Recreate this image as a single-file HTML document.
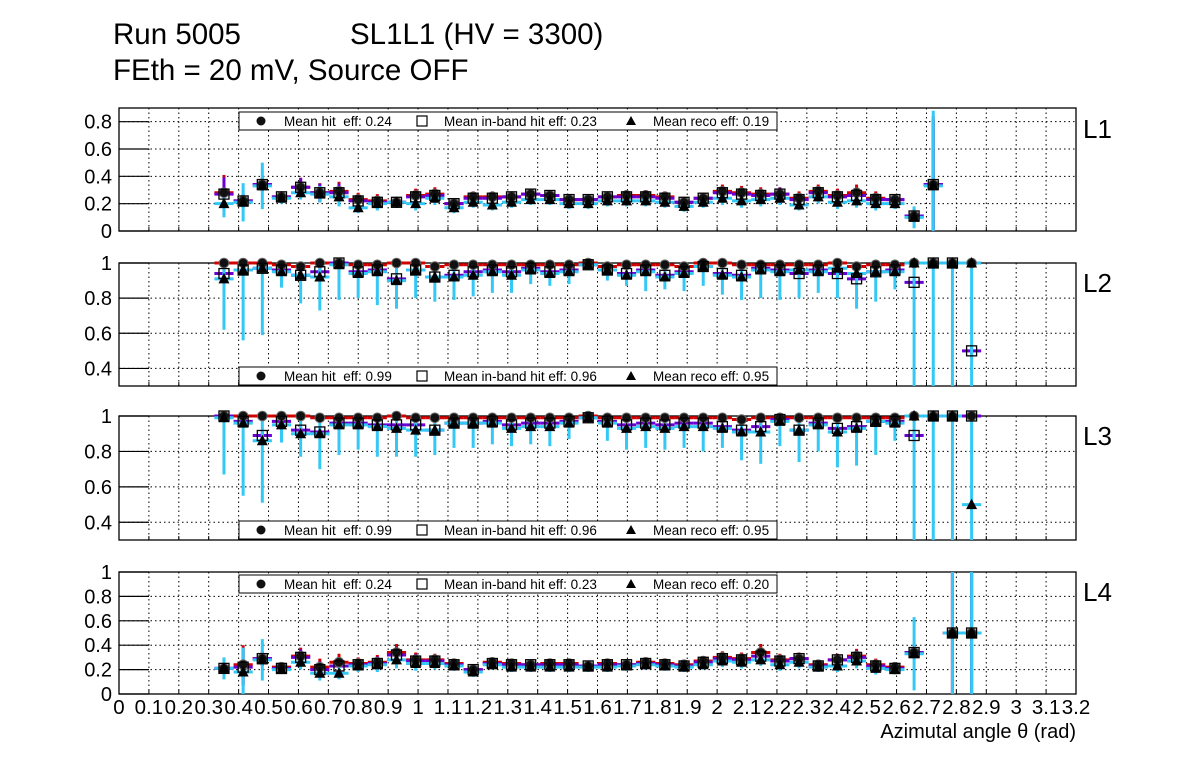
<!DOCTYPE html>
<html><head><meta charset="utf-8"><style>
body{margin:0;background:#fff;}
svg{display:block;font-family:"Liberation Sans",sans-serif;}
text{white-space:pre;}
</style></head><body>
<svg id="c" width="1196" height="772" viewBox="0 0 1196 772" xmlns="http://www.w3.org/2000/svg">
<rect width="1196" height="772" fill="#fff"/>
<text x="113" y="44" font-size="29.5">Run 5005</text>
<text x="350" y="44" font-size="29.5">SL1L1 (HV = 3300)</text>
<text x="113" y="80" font-size="29.5">FEth = 20 mV, Source OFF</text>
<text x="1076" y="738" font-size="20" text-anchor="end">Azimutal angle θ (rad)</text>
</svg>
<script>
// ----- data -----
const binStart = 0.351, binWidth = 0.0641;
const xTicks = ["0","0.1","0.2","0.3","0.4","0.5","0.6","0.7","0.8","0.9","1","1.1","1.2","1.3","1.4","1.5","1.6","1.7","1.8","1.9","2","2.1","2.2","2.3","2.4","2.5","2.6","2.7","2.8","2.9","3","3.1","3.2"];
const panelNames = ["L1","L2","L3","L4"];
const meanHit = ["0.24","0.99","0.99","0.24"];
const meanIn = ["0.23","0.96","0.96","0.23"];
const meanReco = ["0.19","0.95","0.95","0.20"];

const L1hit = [0.28,0.22,0.34,0.25,0.32,0.28,0.29,0.23,0.22,0.21,0.26,0.27,0.20,0.25,0.25,0.25,0.27,0.26,0.23,0.23,0.25,0.26,0.26,0.25,0.21,0.24,0.29,0.28,0.27,0.27,0.24,0.29,0.26,0.28,0.24,0.23,0.11,0.34];
const L1in  = [0.27,0.22,0.34,0.25,0.32,0.28,0.28,0.22,0.21,0.21,0.25,0.26,0.20,0.24,0.24,0.25,0.27,0.26,0.23,0.23,0.25,0.25,0.25,0.24,0.21,0.24,0.28,0.27,0.26,0.27,0.23,0.28,0.25,0.26,0.23,0.23,0.11,0.34];
const L1reco= [0.20,0.21,0.33,0.24,0.28,0.27,0.25,0.17,0.20,0.21,0.20,0.24,0.17,0.21,0.19,0.21,0.23,0.23,0.20,0.20,0.22,0.22,0.22,0.21,0.18,0.21,0.24,0.22,0.23,0.24,0.19,0.25,0.21,0.22,0.20,0.20,0.10,0.33];
const L1errHit = [0.13,0.05,0.05,0.04,0.07,0.07,0.07,0.05,0.05,0.04,0.05,0.05,0.04,0.04,0.04,0.04,0.04,0.04,0.04,0.04,0.04,0.04,0.04,0.04,0.04,0.04,0.05,0.05,0.05,0.05,0.05,0.05,0.05,0.06,0.05,0.04,0.05,0.5];
const L1errReco= [0.10,0.14,0.17,0.04,0.05,0.06,0.07,0.04,0.05,0.04,0.05,0.05,0.04,0.04,0.04,0.04,0.04,0.04,0.04,0.04,0.04,0.04,0.04,0.04,0.04,0.04,0.05,0.05,0.05,0.05,0.04,0.05,0.05,0.05,0.05,0.04,0.08,0.55];

const L2hit = [1.0,1.0,1.0,0.99,0.98,1.0,1.0,0.99,0.99,1.0,1.0,0.98,0.99,0.99,0.99,0.99,0.99,0.99,0.99,1.0,0.98,0.99,0.99,0.99,0.98,1.0,1.0,0.99,0.99,0.99,0.99,0.99,1.0,0.98,0.99,0.99,1.0,1.0,1.0,1.0];
const L2in  = [0.94,0.96,0.97,0.96,0.93,0.95,1.0,0.95,0.96,0.91,0.96,0.92,0.93,0.95,0.96,0.95,0.97,0.95,0.96,0.99,0.96,0.94,0.96,0.93,0.95,0.98,0.94,0.93,0.97,0.96,0.94,0.96,0.94,0.91,0.95,0.96,0.89,1.0,1.0,0.5];
const L2reco= [0.91,0.96,0.97,0.95,0.93,0.92,0.99,0.94,0.95,0.90,0.96,0.92,0.92,0.93,0.95,0.93,0.96,0.94,0.95,0.99,0.96,0.93,0.95,0.92,0.94,0.98,0.93,0.92,0.96,0.95,0.96,0.95,0.97,0.94,0.95,0.95,1.0,1.0,1.0,1.0];
const L2errHit = [0.02,0.02,0.02,0.02,0.02,0.02,0.02,0.02,0.02,0.02,0.02,0.02,0.02,0.02,0.02,0.02,0.02,0.02,0.02,0.02,0.02,0.02,0.02,0.02,0.02,0.02,0.02,0.02,0.02,0.02,0.02,0.02,0.02,0.02,0.02,0.02,0.02,0.02,0.02,0.02];
const L2errReco= [0.29,0.40,0.38,0.09,0.16,0.19,0.20,0.14,0.19,0.16,0.16,0.14,0.13,0.12,0.12,0.10,0.08,0.07,0.07,0.03,0.06,0.06,0.11,0.07,0.10,0.11,0.11,0.13,0.16,0.16,0.16,0.12,0.17,0.20,0.17,0.10,0.8,0.8,0.8,0.8];

const L3hit = [1.0,1.0,1.0,1.0,1.0,0.99,0.99,0.99,0.99,1.0,0.99,0.99,0.99,0.99,0.99,0.99,0.99,0.99,0.99,1.0,0.99,0.99,0.99,0.99,0.99,0.99,0.99,0.98,0.99,0.99,0.99,0.99,0.99,0.99,0.99,0.99,1.0,1.0,1.0,1.0];
const L3in  = [1.0,0.97,0.89,0.97,0.92,0.91,0.96,0.96,0.95,0.95,0.95,0.92,0.96,0.96,0.97,0.95,0.96,0.96,0.97,0.99,0.97,0.95,0.96,0.95,0.96,0.96,0.94,0.92,0.94,0.98,0.92,0.96,0.93,0.94,0.97,0.97,0.89,1.0,1.0,1.0];
const L3reco= [0.99,0.96,0.86,0.95,0.90,0.90,0.95,0.95,0.94,0.93,0.92,0.92,0.96,0.96,0.96,0.93,0.94,0.94,0.96,0.99,0.96,0.93,0.94,0.93,0.94,0.94,0.93,0.91,0.91,0.97,0.92,0.95,0.91,0.93,0.97,0.96,1.0,1.0,1.0,0.5];
const L3errHit = L2errHit;
const L3errReco= [0.32,0.41,0.35,0.10,0.13,0.20,0.17,0.14,0.17,0.16,0.15,0.14,0.14,0.14,0.12,0.10,0.10,0.11,0.09,0.03,0.10,0.12,0.12,0.12,0.12,0.14,0.11,0.16,0.18,0.14,0.18,0.15,0.20,0.21,0.19,0.10,0.8,0.8,0.8,0.8];

const L4hit = [0.21,0.24,0.29,0.22,0.31,0.22,0.26,0.25,0.26,0.34,0.28,0.28,0.25,0.20,0.26,0.25,0.24,0.25,0.25,0.23,0.25,0.24,0.26,0.25,0.24,0.27,0.30,0.29,0.34,0.28,0.29,0.24,0.28,0.31,0.24,0.22,0.34,null,0.5,0.5];
const L4in  = [0.21,0.22,0.29,0.21,0.30,0.20,0.23,0.24,0.25,0.32,0.27,0.27,0.24,0.20,0.25,0.24,0.24,0.24,0.24,0.23,0.24,0.24,0.25,0.24,0.23,0.26,0.29,0.28,0.31,0.27,0.29,0.23,0.28,0.30,0.23,0.21,0.34,null,0.5,0.5];
const L4reco= [0.21,0.18,0.28,0.20,0.26,0.17,0.17,0.23,0.24,0.28,0.25,0.25,0.23,0.18,0.24,0.22,0.22,0.22,0.22,0.22,0.22,0.23,0.24,0.23,0.22,0.24,0.27,0.26,0.28,0.24,0.26,0.22,0.23,0.27,0.21,0.20,0.33,null,0.5,0.5];
const L4errHit = [0.05,0.16,0.06,0.03,0.07,0.07,0.07,0.05,0.06,0.07,0.06,0.05,0.04,0.04,0.04,0.04,0.04,0.04,0.04,0.04,0.04,0.04,0.04,0.04,0.04,0.04,0.05,0.05,0.07,0.05,0.05,0.04,0.05,0.06,0.05,0.04,0.05,null,0.6,0.6];
const L4errReco= [0.09,0.20,0.17,0.03,0.06,0.06,0.05,0.05,0.06,0.07,0.06,0.05,0.04,0.04,0.04,0.04,0.04,0.04,0.04,0.04,0.04,0.04,0.04,0.04,0.04,0.04,0.05,0.05,0.05,0.05,0.05,0.04,0.05,0.06,0.05,0.04,0.30,null,0.6,0.6];

const hitSeries = [L1hit,L2hit,L3hit,L4hit];
const inSeries = [L1in,L2in,L3in,L4in];
const recoSeries = [L1reco,L2reco,L3reco,L4reco];
const hitErrs = [L1errHit,L2errHit,L3errHit,L4errHit];
const recoErrs = [L1errReco,L2errReco,L3errReco,L4errReco];
const yTickVals = [[0,0.2,0.4,0.6,0.8],[0.4,0.6,0.8,1],[0.4,0.6,0.8,1],[0,0.2,0.4,0.6,0.8,1]];
const yTickLabels = [["0","0.2","0.4","0.6","0.8"],["0.4","0.6","0.8","1"],["0.4","0.6","0.8","1"],["0","0.2","0.4","0.6","0.8","1"]];

// ----- layout -----
const NS="http://www.w3.org/2000/svg";
const svg=document.getElementById('c');
const X0=119, X1=1076, XMIN=0, XMAX=3.2;
const panels=[{top:108,bot:231,ymin:0,ymax:0.9,leg:112},{top:263,bot:386,ymin:0.3,ymax:1.0,leg:367},{top:416,bot:540,ymin:0.3,ymax:1.0,leg:521},{top:572,bot:694,ymin:0,ymax:1.0,leg:575}];
const labelY=[138,292,445,601];
function xs(v){return X0+(v-XMIN)/(XMAX-XMIN)*(X1-X0);}
function mk(tag,attrs,parent){const e=document.createElementNS(NS,tag);for(const k in attrs)e.setAttribute(k,attrs[k]);(parent||svg).appendChild(e);return e;}

panels.forEach((p,pi)=>{
  const ys=v=>p.bot-(v-p.ymin)/(p.ymax-p.ymin)*(p.bot-p.top);
  const clampY=v=>Math.max(p.top,Math.min(p.bot,ys(v)));
  const g=mk('g',{});
  
  
  for(let i=1;i<xTicks.length-1;i++){
    const gx=xs(i*0.1);
    const l=mk('line',{x1:gx,x2:gx,y1:p.top,y2:p.bot,stroke:'#000','stroke-width':1,'stroke-dasharray':'1.5,3'},g);
    
    
    const t=mk('line',{x1:gx,x2:gx,y1:p.bot,y2:p.bot-4,stroke:'#000','stroke-width':1},g);
    
    
  }
  yTickVals[pi].forEach((v,k)=>{
    const y=ys(v);
    if(y>p.top+1&&y<p.bot-1){
      const l=mk('line',{x1:X0,x2:X1,y1:y,y2:y,stroke:'#000','stroke-width':1,'stroke-dasharray':'1.5,3'},g);
      
      
    }
    const t=mk('line',{x1:X0,x2:X0+30,y1:y,y2:y,stroke:'#000','stroke-width':1.2},g);
    
    
    const tx=mk('text',{x:112,y:y+7,'font-size':20,'text-anchor':'end'},g);
    tx.textContent=yTickLabels[pi][k];
    
    
  });
  const fr=mk('rect',{x:X0,y:p.top,width:X1-X0,height:p.bot-p.top,fill:'none',stroke:'#000','stroke-width':1.3},g);
  
  
  const hw=binWidth/2*(X1-X0)/(XMAX-XMIN);
  const H=hitSeries[pi],I=inSeries[pi],R=recoSeries[pi],EH=hitErrs[pi],ER=recoErrs[pi];
  const bars=[[H,EH,'#d40000'],[I,EH,'#6a00d4'],[R,ER,'#33c8f5']];
  bars.forEach(([S,E,col],si)=>{
    S.forEach((v,i)=>{
      if(v===null)return;
      const cx=xs(binStart+i*binWidth), cy=ys(v);
      const e=E[i]*(si==1?0.95:1);
      const hl=mk('line',{x1:cx-hw,x2:cx+hw,y1:cy,y2:cy,stroke:col,'stroke-width':3},g);
      
      
      const vl=mk('line',{x1:cx,x2:cx,y1:clampY(v+e),y2:clampY(v-e),stroke:col,'stroke-width':3},g);
      
      
    });
  });
  H.forEach((v,i)=>{ if(v===null)return;
    const c=mk('circle',{cx:xs(binStart+i*binWidth),cy:ys(v),r:4.8,fill:'#111',stroke:'#666','stroke-width':1},g);
    
    
  });
  I.forEach((v,i)=>{ if(v===null)return;
    const cx=xs(binStart+i*binWidth),cy=ys(v);
    const s=mk('rect',{x:cx-5,y:cy-5,width:10,height:10,fill:'none',stroke:'#000','stroke-width':1.3},g);
    
    
  });
  R.forEach((v,i)=>{ if(v===null)return;
    const cx=xs(binStart+i*binWidth),cy=ys(v);
    const t=mk('polygon',{points:`${cx},${cy-6} ${cx-5.5},${cy+4.5} ${cx+5.5},${cy+4.5}`,fill:'#000'},g);
    
    
  });
  const lg=mk('g',{},g);
  
  
  mk('rect',{x:239,y:p.leg,width:538,height:18,fill:'#fff',stroke:'#000','stroke-width':1},lg);
  const ly=p.leg+9;
  mk('circle',{cx:261,cy:ly,r:4.5,fill:'#111'},lg);
  mk('rect',{x:417,y:ly-5,width:10,height:10,fill:'none',stroke:'#000','stroke-width':1.2},lg);
  mk('polygon',{points:`631,${ly-5} 626,${ly+4} 636,${ly+4}`,fill:'#000'},lg);
  const t1=mk('text',{x:284,y:ly+5,'font-size':13.5},lg);t1.textContent='Mean hit  eff: '+meanHit[pi];
  
  
  const t2=mk('text',{x:444,y:ly+5,'font-size':13.5},lg);t2.textContent='Mean in-band hit eff: '+meanIn[pi];
  
  
  const t3=mk('text',{x:653,y:ly+5,'font-size':13.5},lg);t3.textContent='Mean reco eff: '+meanReco[pi];
  
  
  const pl=mk('text',{x:1083,y:labelY[pi],'font-size':26},g);
  pl.textContent=panelNames[pi];
  
  
});
xTicks.forEach((lab,i)=>{
  const t=mk('text',{x:xs(i*0.1),y:714,'font-size':20.5,'text-anchor':'middle'});
  t.textContent=lab;
  
  
});
</script>
</body></html>
